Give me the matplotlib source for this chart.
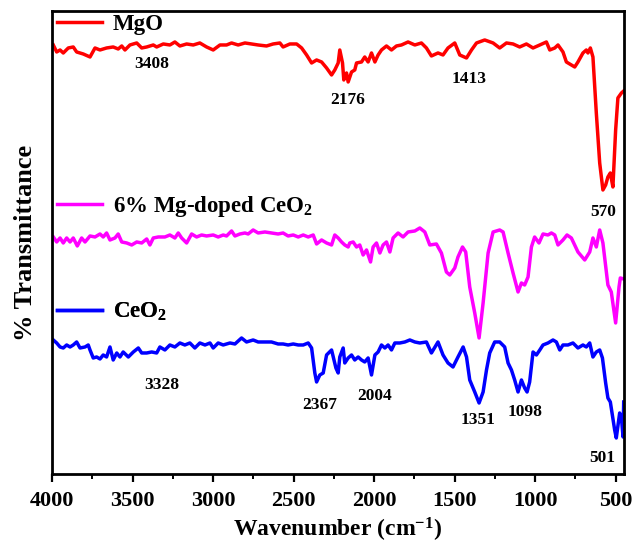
import matplotlib
matplotlib.use('Agg')
from matplotlib import pyplot as plt

plt.rcParams['font.family'] = 'Liberation Serif'
plt.rcParams['font.weight'] = 'bold'
plt.rcParams['mathtext.fontset'] = 'custom'
plt.rcParams['mathtext.rm'] = 'Liberation Serif:bold'
plt.rcParams['mathtext.bf'] = 'Liberation Serif:bold'
plt.rcParams['mathtext.it'] = 'Liberation Serif:bold'

# espectros FTIR (transmitancia en unidades arbitrarias, con desplazamiento)
mgo_wn = [3992, 3971, 3950, 3930, 3899, 3868, 3847, 3806, 3764, 3733, 3702, 3661, 3620, 3589,
          3567, 3547, 3516, 3474, 3443, 3412, 3371, 3350, 3309, 3268, 3237, 3206, 3164, 3123,
          3082, 3040, 2999, 2957, 2916, 2885, 2844, 2802, 2761, 2720, 2668, 2627, 2585, 2565,
          2523, 2481, 2450, 2419, 2388, 2357, 2326, 2295, 2264, 2244, 2223, 2213, 2196, 2188,
          2171, 2161, 2140, 2120, 2109, 2078, 2058, 2037, 2016, 1995, 1975, 1954, 1923, 1892,
          1861, 1830, 1789, 1747, 1706, 1675, 1644, 1603, 1572, 1541, 1499, 1468, 1426, 1395,
          1364, 1313, 1261, 1220, 1178, 1137, 1096, 1054, 1013, 971, 930, 909, 878, 858, 827,
          806, 775, 754, 734, 703, 682, 672, 657, 641, 620, 599, 579, 562, 548, 533, 517, 500,
          486, 464, 450]
mgo_t = [429, 422, 424, 421, 426, 427, 422, 420, 417, 426, 424, 426, 427, 425,
         428, 424, 429, 431, 426, 427, 429, 427, 430, 429, 432, 428, 430, 429,
         431, 427, 424, 429, 429, 431, 429, 431, 430, 429, 428, 430, 431, 427,
         430, 430, 426, 419, 411, 414, 412, 406, 399, 404, 411, 424, 411, 394,
         401, 392, 402, 404, 411, 412, 417, 412, 421, 412, 419, 424, 428, 424,
         428, 429, 432, 429, 431, 426, 418, 421, 419, 426, 431, 419, 416, 424,
         431, 434, 431, 426, 431, 430, 427, 430, 426, 429, 432, 424, 426, 429, 422,
         412, 409, 407, 412, 421, 424, 421, 426, 417, 361, 311, 284, 289, 297, 301, 287, 344,
         376, 381, 383]

dop_wn = [3992, 3971, 3950, 3930, 3909, 3888, 3868, 3843, 3816, 3795, 3764, 3733, 3702, 3682,
          3661, 3640, 3609, 3589, 3567, 3536, 3505, 3474, 3443, 3412, 3392, 3371, 3340, 3299,
          3268, 3237, 3216, 3195, 3164, 3133, 3102, 3071, 3040, 2999, 2968, 2937, 2916, 2885,
          2864, 2833, 2802, 2782, 2751, 2720, 2678, 2637, 2596, 2565, 2534, 2502, 2471, 2440,
          2409, 2378, 2357, 2326, 2295, 2264, 2244, 2223, 2202, 2182, 2161, 2151, 2130, 2109,
          2089, 2068, 2047, 2022, 2006, 1985, 1964, 1944, 1923, 1902, 1882, 1851, 1820, 1789,
          1747, 1716, 1685, 1654, 1613, 1582, 1551, 1530, 1499, 1479, 1451, 1431, 1406, 1375,
          1348, 1323, 1292, 1261, 1220, 1199, 1168, 1137, 1106, 1085, 1065, 1044, 1023, 1003,
          976, 951, 920, 899, 878, 858, 827, 802, 775, 734, 692, 661, 641, 620, 599, 579, 548,
          527, 500, 479, 471, 450]
dop_t = [237, 232, 236, 231, 236, 232, 236, 228, 236, 232, 238, 237, 240, 237,
         241, 234, 236, 240, 232, 231, 229, 232, 231, 235, 229, 236, 237, 237,
         239, 236, 241, 236, 231, 240, 237, 239, 238, 239, 237, 239, 238, 243,
         238, 240, 241, 240, 244, 241, 242, 241, 240, 241, 238, 239, 237, 239,
         237, 239, 230, 234, 231, 229, 239, 236, 232, 229, 227, 231, 232, 227,
         229, 219, 224, 212, 227, 231, 221, 229, 232, 222, 236, 241, 237, 242,
         243, 246, 242, 229, 230, 221, 202, 199, 206, 217, 227, 222, 187, 161,
         136, 171, 221, 242, 244, 242, 221, 201, 182, 191, 189, 197, 227, 237,
         231, 240, 239, 241, 239, 229, 234, 239, 236, 222, 214, 222, 236, 227, 244, 231, 189,
         182, 151, 187, 196, 195]

ceo2_wn = [3992, 3971, 3950, 3930, 3909, 3888, 3868, 3847, 3826, 3795, 3775, 3764, 3744, 3723,
           3702, 3682, 3661, 3640, 3620, 3598, 3578, 3558, 3526, 3495, 3464, 3443, 3412, 3381,
           3350, 3330, 3299, 3268, 3237, 3206, 3175, 3144, 3113, 3082, 3050, 3019, 2999, 2968,
           2937, 2895, 2864, 2823, 2792, 2751, 2720, 2678, 2637, 2596, 2565, 2534, 2502, 2471,
           2440, 2409, 2388, 2368, 2357, 2337, 2316, 2295, 2264, 2237, 2223, 2213, 2192, 2182,
           2161, 2140, 2120, 2099, 2078, 2058, 2037, 2016, 1995, 1975, 1954, 1933, 1913, 1892,
           1871, 1840, 1809, 1778, 1747, 1716, 1675, 1644, 1603, 1572, 1541, 1510, 1479, 1447,
           1426, 1406, 1375, 1348, 1323, 1302, 1282, 1251, 1220, 1189, 1168, 1147, 1127, 1106,
           1085, 1065, 1050, 1034, 1013, 992, 971, 951, 920, 889, 868, 847, 827, 796, 765, 734,
           703, 682, 661, 641, 620, 599, 582, 562, 548, 533, 506, 496, 475, 464, 454, 450]
ceo2_t = [134, 131, 127, 126, 129, 127, 129, 132, 126, 127, 129, 124, 116, 117,
          115, 119, 117, 127, 114, 121, 117, 122, 117, 122, 126, 121, 121, 122,
          121, 127, 124, 129, 127, 131, 129, 131, 126, 131, 129, 131, 126, 131,
          129, 131, 130, 136, 132, 134, 132, 132, 132, 130, 130, 129, 130, 129,
          129, 131, 126, 101, 92, 99, 101, 119, 124, 106, 101, 117, 126, 111,
          116, 119, 114, 117, 114, 112, 116, 99, 119, 122, 129, 126, 129, 124,
          131, 131, 132, 134, 132, 131, 132, 121, 132, 119, 111, 107, 117, 127,
          117, 94, 82, 71, 82, 104, 121, 132, 132, 127, 111, 104, 94, 82,
          94, 86, 82, 92, 122, 119, 124, 129, 131, 134, 132, 124, 129, 129, 131, 126,
          129, 127, 131, 117, 122, 124, 116, 91, 76, 72, 44, 36, 61, 56, 37, 72]

labels = ['MgO', '6% Mg-doped CeO$_2$', 'CeO$_2$']
colors = ['red', 'magenta', 'blue']

# posiciones de las bandas marcadas (texto, wn, T)
peaks = [('3408', 3381, 410), ('2176', 2161, 374), ('1413', 1410, 395), ('570', 579, 262),
         ('3328', 3319, 89), ('2367', 2337, 69), ('2004', 1995, 78), ('1351', 1354, 54),
         ('1098', 1065, 62), ('501', 582, 16)]

fig, ax = plt.subplots(figsize=(6.35, 5.46), dpi=100)
fig.subplots_adjust(left=0.0819, right=0.9827, top=0.9799, bottom=0.1319)

series = [(mgo_wn, mgo_t), (dop_wn, dop_t), (ceo2_wn, ceo2_t)]
lines = []
for (wn, t), color in zip(series, colors):
    ln, = ax.plot(wn, t, color=color, linewidth=2.5)
    lines.append(ln)

# leyendas separadas, una por curva
leg_y = [0.970, 0.577, 0.350]
for ln, lab, y in zip(lines, labels, leg_y):
    leg = ax.legend([ln], [lab], loc='center left', bbox_to_anchor=(0.008, y),
                    frameon=False, borderaxespad=0, borderpad=0, handlelength=2.0,
                    handletextpad=0.45, prop={'family': 'Liberation Serif',
                                              'weight': 'bold', 'size': 16.5})
    ax.add_artist(leg)

for txt, wn, t in peaks:
    ax.text(wn, t, txt, ha='center', va='center', fontsize=12.5, fontweight='bold')

ax.set_xlim(4000, 448)
ax.set_ylim(0, 463)
ax.set_xticks([4000, 3500, 3000, 2500, 2000, 1500, 1000, 500])
ax.set_xticks(range(3750, 449, -500), minor=True)
ax.set_yticks([])
ax.tick_params(axis='x', which='major', direction='out', length=6, width=1.6,
               labelsize=16, pad=6)
ax.tick_params(axis='x', which='minor', direction='out', length=3.5, width=1.4)
for sp in ax.spines.values():
    sp.set_linewidth(2.0)

ax.set_xlabel('Wavenumber (cm$^{\\mathregular{-1}}$)', fontsize=17, fontweight='bold',
              labelpad=4)
ax.set_ylabel('% Transmittance', fontsize=19, fontweight='bold', labelpad=11)

fig.savefig('out.png', dpi=100)
plt.close(fig)
